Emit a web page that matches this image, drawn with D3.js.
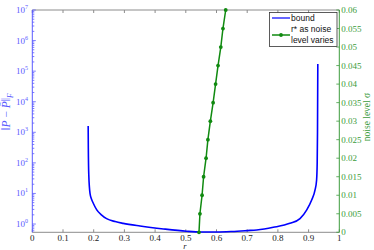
<!DOCTYPE html>
<html>
<head>
<meta charset="utf-8">
<script src="https://cdn.jsdelivr.net/npm/d3@7"></script>
<style>
  body { margin: 0; background: #fff; }
  svg { display: block; }
</style>
</head>
<body>
<div id="chart"></div>
<script>
// bound curve (r, ||P - P^||_F)
const boundR   = [0.182, 0.1825, 0.184, 0.188, 0.193, 0.199, 0.21, 0.225, 0.242, 0.27, 0.296, 0.351, 0.427, 0.503, 0.55, 0.6, 0.65, 0.7, 0.731, 0.785, 0.839, 0.872, 0.894, 0.91, 0.921, 0.926, 0.928, 0.929, 0.93];
const boundVal = [1600, 300, 40, 10, 6.5, 4.7, 2.9, 2.0, 1.5, 1.2, 1.05, 0.86, 0.69, 0.58, 0.55, 0.55, 0.57, 0.61, 0.64, 0.78, 1.05, 1.5, 2.9, 6.1, 13, 27, 100, 1000, 170000];

// r* as noise level varies
const sigma = [0, 0.005, 0.01, 0.015, 0.02, 0.025, 0.03, 0.035, 0.04, 0.045, 0.05, 0.055, 0.06];
const rStar = [0.543, 0.546, 0.553, 0.558, 0.566, 0.572, 0.580, 0.589, 0.597, 0.605, 0.614, 0.621, 0.630];

const xTicks = [0, 0.1, 0.2, 0.3, 0.4, 0.5, 0.6, 0.7, 0.8, 0.9, 1];
const yExponents = [0, 1, 2, 3, 4, 5, 6, 7];
const sigmaTicks = [0, 0.005, 0.01, 0.015, 0.02, 0.025, 0.03, 0.035, 0.04, 0.045, 0.05, 0.055, 0.06];
const sigmaLabels = ['0', '0.005', '0.01', '0.015', '0.02', '0.025', '0.03', '0.035', '0.04', '0.045', '0.05', '0.055', '0.06'];

const width = 374, height = 250;
const plotLeft = 32.3, plotRight = 339.3, plotTop = 10, plotBottom = 232.3;

const blue = '#0000ff', blueText = '#5a5aff';
const green = '#108a10', greenText = '#3c9c3c';
const gray = '#8c8c8c';
const serif = '"Liberation Serif", "DejaVu Serif", serif';
const sans = '"Liberation Sans", Arial, sans-serif';

var svg = d3.select('#chart').append('svg')
    .attr('width', width)
    .attr('height', height);

let x = d3.scaleLinear().domain([0, 1]).range([plotLeft, plotRight]);
let y = d3.scaleLog().domain([0.536, 1e7]).range([plotBottom, plotTop]);
let y2 = d3.scaleLinear().domain([0, 0.06]).range([plotBottom, plotTop]);

// frame: top and bottom gray, left blue, right green
svg.append('line').attr('x1', plotLeft).attr('x2', plotRight).attr('y1', plotBottom).attr('y2', plotBottom)
    .attr('stroke', gray).attr('stroke-width', 1);
svg.append('line').attr('x1', plotLeft).attr('x2', plotRight).attr('y1', plotTop).attr('y2', plotTop)
    .attr('stroke', gray).attr('stroke-width', 1);

// x ticks (inward, bottom and top)
for (let t of xTicks) {
    svg.append('line').attr('x1', x(t)).attr('x2', x(t)).attr('y1', plotBottom).attr('y2', plotBottom - 3)
        .attr('stroke', gray);
    svg.append('line').attr('x1', x(t)).attr('x2', x(t)).attr('y1', plotTop).attr('y2', plotTop + 3)
        .attr('stroke', gray);
    svg.append('text')
        .attr('x', x(t)).attr('y', plotBottom + 9)
        .attr('text-anchor', 'middle')
        .style('font-family', serif).style('font-size', '9px')
        .attr('fill', '#222')
        .text(t);
}
svg.append('text')
    .attr('x', x(0.497)).attr('y', 249)
    .attr('text-anchor', 'middle')
    .style('font-family', serif).style('font-size', '8.5px').style('font-style', 'italic')
    .attr('fill', '#222')
    .text('r');

// left log axis
svg.append('line').attr('x1', plotLeft).attr('x2', plotLeft).attr('y1', plotTop).attr('y2', plotBottom)
    .attr('stroke', blueText).attr('stroke-width', 1);
let minor = [];
for (let k = -1; k < 7; k++) {
    for (let m = 1; m < 10; m++) {
        let v = m * Math.pow(10, k);
        if (v >= 0.536 && v <= 1e7) minor.push({v: v, major: m === 1});
    }
}
minor.push({v: 1e7, major: true});
for (let tk of minor) {
    svg.append('line')
        .attr('x1', plotLeft).attr('x2', plotLeft + (tk.major ? 3.5 : 2))
        .attr('y1', y(tk.v)).attr('y2', y(tk.v))
        .attr('stroke', blueText).attr('stroke-width', 0.8);
}
for (let e of yExponents) {
    let t = svg.append('text')
        .attr('x', 28).attr('y', y(Math.pow(10, e)) + 3)
        .attr('text-anchor', 'end')
        .style('font-family', serif).style('font-size', '9px')
        .attr('fill', blueText);
    t.append('tspan').text('10');
    t.append('tspan').attr('dy', -4).style('font-size', '6px').text(e);
}
let yl = svg.append('text')
    .attr('transform', 'translate(10,112) rotate(-90)')
    .attr('text-anchor', 'middle')
    .style('font-family', serif).style('font-size', '11.5px')
    .attr('fill', blueText);
yl.append('tspan').text('\u2016');
yl.append('tspan').style('font-style', 'italic').text('P');
yl.append('tspan').text(' \u2212 ');
yl.append('tspan').style('font-style', 'italic').text('P\u0302');
yl.append('tspan').text('\u2016');
yl.append('tspan').attr('dy', 3).style('font-size', '7.5px').style('font-style', 'italic').text('F');

// right sigma axis
svg.append('line').attr('x1', plotRight).attr('x2', plotRight).attr('y1', plotTop).attr('y2', plotBottom)
    .attr('stroke', greenText).attr('stroke-width', 1);
sigmaTicks.forEach(function (t, i) {
    svg.append('line')
        .attr('x1', plotRight).attr('x2', plotRight - 3)
        .attr('y1', y2(t)).attr('y2', y2(t))
        .attr('stroke', greenText).attr('stroke-width', 0.8);
    svg.append('text')
        .attr('x', plotRight + 2).attr('y', y2(t) + 3)
        .style('font-family', serif).style('font-size', '9px')
        .attr('fill', greenText)
        .text(sigmaLabels[i]);
});
svg.append('text')
    .attr('transform', 'translate(370,117) rotate(-90)')
    .attr('text-anchor', 'middle')
    .style('font-family', serif).style('font-size', '9.5px')
    .attr('fill', greenText)
    .text('noise level \u03c3');

// bound curve
let boundData = boundR.map((r, i) => [r, boundVal[i]]);
let line = d3.line()
    .x(d => x(d[0]))
    .y(d => y(d[1]))
    .curve(d3.curveMonotoneX);
svg.append('path')
    .datum(boundData)
    .attr('d', line)
    .attr('fill', 'none')
    .attr('stroke', blue)
    .attr('stroke-width', 1.6);

// r* line
let rData = rStar.map((r, i) => [r, sigma[i]]);
let line2 = d3.line()
    .x(d => x(d[0]))
    .y(d => y2(d[1]));
svg.append('path')
    .datum(rData)
    .attr('d', line2)
    .attr('fill', 'none')
    .attr('stroke', green)
    .attr('stroke-width', 1.5);
svg.selectAll('circle.pt')
    .data(rData)
    .enter()
    .append('circle')
    .attr('class', 'pt')
    .attr('cx', d => x(d[0]))
    .attr('cy', d => y2(d[1]))
    .attr('r', 1.9)
    .attr('fill', green);

// legend
let lg = svg.append('g');
lg.append('rect')
    .attr('x', 269.5).attr('y', 12.5).attr('width', 67.5).attr('height', 34)
    .attr('fill', '#fff').attr('stroke', '#333').attr('stroke-width', 0.8);
lg.append('line').attr('x1', 272).attr('x2', 290).attr('y1', 18).attr('y2', 18)
    .attr('stroke', blue).attr('stroke-width', 1.2);
lg.append('text').attr('x', 291).attr('y', 21)
    .style('font-family', sans).style('font-size', '8.5px').attr('fill', '#111')
    .text('bound');
lg.append('line').attr('x1', 272).attr('x2', 290).attr('y1', 35).attr('y2', 35)
    .attr('stroke', green).attr('stroke-width', 1.5);
lg.append('circle').attr('cx', 281).attr('cy', 35).attr('r', 1.9).attr('fill', green);
lg.append('text').attr('x', 291).attr('y', 32)
    .style('font-family', sans).style('font-size', '8.5px').attr('fill', '#111')
    .text('r* as noise');
lg.append('text').attr('x', 291).attr('y', 43)
    .style('font-family', sans).style('font-size', '8.5px').attr('fill', '#111')
    .text('level varies');
</script>
</body>
</html>
